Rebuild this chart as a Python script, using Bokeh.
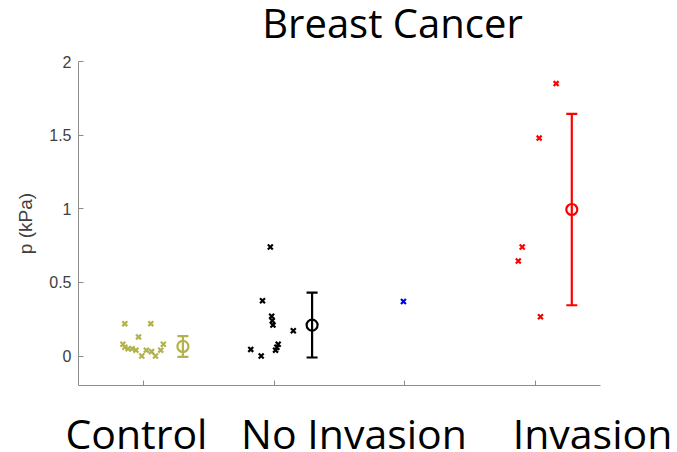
from bokeh.plotting import figure
from bokeh.models import FixedTicker, Range1d
from bokeh.layouts import column
from bokeh.core.properties import value
from bokeh.embed import file_html
from bokeh.resources import INLINE

# ---- data ----
categories = ["Control", "No Invasion", "Invasion"]
title_text = "Breast Cancer"
y_ticks = [0, 0.5, 1, 1.5, 2]
x_ticks = [1, 2, 3, 4]

ctrl_x = [0.855, 1.054, 0.96, 0.84, 0.855, 0.88, 0.91, 0.94, 0.985, 1.02, 1.06, 1.09, 1.13, 1.15]
ctrl_y = [0.22, 0.22, 0.13, 0.08, 0.06, 0.05, 0.05, 0.04, 0.0, 0.04, 0.03, 0.0, 0.04, 0.08]

noinv_x = [1.97, 1.91, 1.98, 1.985, 1.99, 2.146, 1.82, 1.90, 2.01, 2.03, 2.02]
noinv_y = [0.74, 0.375, 0.27, 0.24, 0.21, 0.172, 0.045, 0.0, 0.04, 0.08, 0.06]

blue_x = [2.99]
blue_y = [0.37]

inv_x = [4.16, 4.03, 3.90, 3.87, 4.04]
inv_y = [1.85, 1.48, 0.74, 0.645, 0.267]

sum_x = [1.30, 2.29, 4.28]
sum_mean = [0.065, 0.21, 0.995]
sum_err = [0.07, 0.22, 0.65]
sum_color = ["#b3b34d", "#000000", "#ff0000"]

# positions of captions in data x
cat_x = [0.944, 2.611, 4.439]
title_x = 2.906

OLIVE = "#b3b34d"
W = 677
LEFT, RIGHT = 78, 77
X0, X1 = 0.5, 4.5
px_per_unit = (W - LEFT - RIGHT) / (X1 - X0)
full_x = Range1d(X0 - LEFT / px_per_unit, X1 + RIGHT / px_per_unit)

TOP_H, BOT_H = 40, 52
MAIN_H = 452 - TOP_H - BOT_H


def caption_fig(h):
    f = figure(width=W, height=h, output_backend="svg", toolbar_location=None,
               x_range=full_x, y_range=Range1d(h, 0),
               min_border_left=0, min_border_right=0,
               min_border_top=0, min_border_bottom=0,
               x_axis_type=None, y_axis_type=None, frame_align=False)
    f.grid.visible = False
    f.outline_line_color = None
    f.title.visible = False
    f.background_fill_color = "white"
    f.border_fill_color = "white"
    return f


# ---- title strip ----
ft = caption_fig(TOP_H)
ft.text(x=[title_x], y=[22], text=[title_text], text_align="center",
        text_baseline="alphabetic", text_font=value("Open Sans"),
        text_font_size=value("40px"), text_color="#000000")

# ---- main plot ----
p = figure(width=W, height=MAIN_H, output_backend="svg", toolbar_location=None,
           x_range=Range1d(X0, X1), y_range=Range1d(-0.2, 2.0),
           min_border_left=LEFT, min_border_right=RIGHT,
           min_border_top=61 - TOP_H, min_border_bottom=(TOP_H + MAIN_H) - 385,
           frame_align=False)
p.title.visible = False
p.grid.visible = False
p.outline_line_color = None
p.background_fill_color = "white"
p.border_fill_color = "white"

for ax in (p.xaxis[0], p.yaxis[0]):
    ax.axis_line_color = "#8c8c8c"
    ax.major_tick_line_color = "#8c8c8c"
    ax.major_tick_in = 5
    ax.major_tick_out = 0
    ax.minor_tick_line_color = None
    ax.axis_line_width = 1

p.xaxis.ticker = FixedTicker(ticks=x_ticks)
p.xaxis.major_label_text_font_size = "0px"
p.xaxis.major_label_text_color = None
p.xaxis.major_label_standoff = 0

p.yaxis.ticker = FixedTicker(ticks=y_ticks)
p.yaxis.major_label_overrides = {0: "0", 0.5: "0.5", 1: "1", 1.5: "1.5", 2: "2"}
p.yaxis.major_label_text_font = "Liberation Sans"
p.yaxis.major_label_text_font_size = "16px"
p.yaxis.major_label_text_color = "#404040"
p.yaxis.major_label_standoff = 7
p.yaxis.axis_label = "p (kPa)"
p.yaxis.axis_label_text_font = "Liberation Sans"
p.yaxis.axis_label_text_font_size = "19px"
p.yaxis.axis_label_text_font_style = "normal"
p.yaxis.axis_label_text_color = "#404040"
p.yaxis.axis_label_standoff = 10

p.scatter(ctrl_x, ctrl_y, marker="x", size=7, line_width=2.2, line_color=OLIVE)
p.scatter(noinv_x, noinv_y, marker="x", size=7, line_width=2.2, line_color="#000000")
p.scatter(blue_x, blue_y, marker="x", size=7, line_width=2.2, line_color="#0000ff")
p.scatter(inv_x, inv_y, marker="x", size=7, line_width=2.2, line_color="#ff0000")

lo = [m - e for m, e in zip(sum_mean, sum_err)]
hi = [m + e for m, e in zip(sum_mean, sum_err)]
p.segment(x0=sum_x, y0=lo, x1=sum_x, y1=hi, line_color=sum_color, line_width=2.2)
p.scatter(sum_x, lo, marker="dash", size=11, line_width=2.2, line_color=sum_color)
p.scatter(sum_x, hi, marker="dash", size=11, line_width=2.2, line_color=sum_color)
p.scatter(sum_x, sum_mean, marker="circle", size=11, line_width=2.2,
          line_color=sum_color, fill_color=None)

# ---- category strip ----
fb = caption_fig(BOT_H)
fb.text(x=cat_x, y=[32] * len(cat_x), text=categories, text_align="center",
        text_baseline="alphabetic", text_font=value("Open Sans"),
        text_font_size=value("41px"), text_color="#000000")

layout = column(ft, p, fb, spacing=0)
open("out.html", "w").write(file_html(layout, INLINE))
